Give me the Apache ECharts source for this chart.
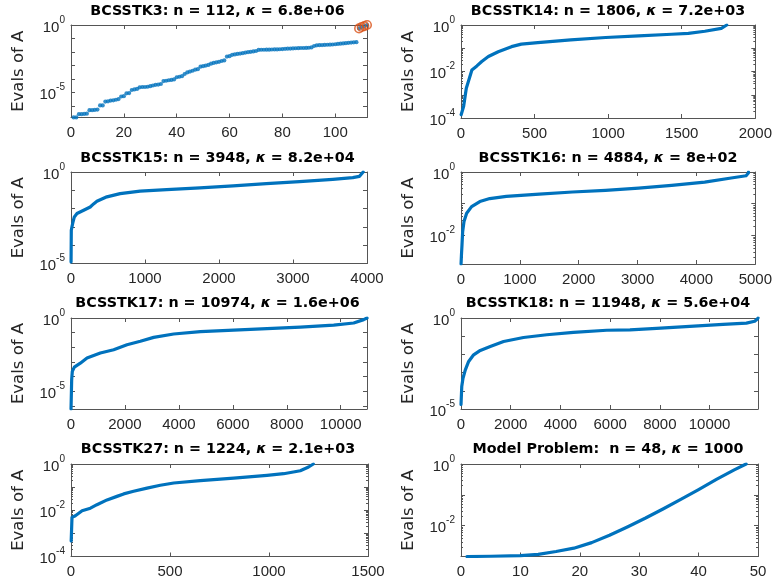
<!DOCTYPE html>
<html><head><meta charset="utf-8">
<script src="https://cdn.jsdelivr.net/npm/echarts@6/dist/echarts.min.js"></script>
<style>html,body{margin:0;padding:0;background:#fff}#c{width:775px;height:585px}</style>
</head><body><div id="c"></div>
<script>
// ---------- titles ----------
const titleHeads = ['BCSSTK3: n = 112, ', 'BCSSTK14: n = 1806, ', 'BCSSTK15: n = 3948, ', 'BCSSTK16: n = 4884, ',
  'BCSSTK17: n = 10974, ', 'BCSSTK18: n = 11948, ', 'BCSSTK27: n = 1224, ', 'Model Problem:  n = 48, '];
const kappas = ['6.8e+06', '7.2e+03', '8.2e+04', '8e+02', '1.6e+06', '5.6e+04', '2.1e+03', '1000'];
const yName = 'Evals of A';

// ---------- axis ranges / tick labels ----------
const xMax = [112, 2000, 4000, 5000, 10974, 11948, 1500, 50];
const xStep = [20, 500, 1000, 1000, 2000, 2000, 500, 10];
const yMin = [1.47e-7, 1e-4, 1e-5, 1.25e-3, 6.25e-7, 1e-5, 1e-4, 1e-3];
const yMax = [1, 1, 1, 1, 1, 1, 1, 1];
const yLabelExp = [[-5, 0], [-4, -2, 0], [-5, 0], [-2, 0], [-5, 0], [-5, 0], [-4, -2, 0], [-2, 0]];
const hasMinor = [false, true, false, true, false, false, true, true];

// ---------- data ----------
// BCSSTK3: all 112 eigenvalues (index 1..112)
const p1Eig = [1.48e-7, 1.48e-7, 2.57e-7, 2.57e-7, 2.69e-7, 2.82e-7, 5.13e-7, 5.13e-7, 5.37e-7, 5.62e-7,
  1.15e-6, 1.15e-6, 2.19e-6, 2.29e-6, 2.63e-6, 2.75e-6, 3.02e-6, 3.39e-6, 5.25e-6, 5.5e-6,
  8.9e-6, 9.3e-6, 1.58e-5, 1.74e-5, 1.91e-5, 2.51e-5, 2.63e-5, 2.63e-5, 2.75e-5, 3.02e-5,
  3.39e-5, 3.8e-5, 3.98e-5, 4.37e-5, 7.24e-5, 7.59e-5, 8.32e-5, 8.71e-5, 9.55e-5, 1.38e-4,
  1.51e-4, 1.66e-4, 2.4e-4, 3.16e-4, 3.63e-4, 4.17e-4, 5.01e-4, 5.5e-4, 8.32e-4, 9.12e-4,
  1e-3, 1.12e-3, 1.38e-3, 1.58e-3, 1.74e-3, 1.91e-3, 2.19e-3, 2.4e-3, 4.68e-3, 5.01e-3,
  6.31e-3, 6.76e-3, 7.24e-3, 7.76e-3, 8.32e-3, 9.12e-3, 9.77e-3, 1.05e-2, 1.12e-2, 1.2e-2,
  1.45e-2, 1.48e-2, 1.48e-2, 1.51e-2, 1.51e-2, 1.55e-2, 1.58e-2, 1.58e-2, 1.62e-2, 1.66e-2,
  1.74e-2, 1.78e-2, 1.82e-2, 1.86e-2, 1.91e-2, 1.95e-2, 2.0e-2, 2.0e-2, 2.04e-2, 2.09e-2,
  2.19e-2, 2.82e-2, 3.16e-2, 3.24e-2, 3.31e-2, 3.39e-2, 3.47e-2, 3.55e-2, 3.63e-2, 3.8e-2,
  3.98e-2, 4.17e-2, 4.37e-2, 4.57e-2, 4.79e-2, 5.01e-2, 5.25e-2, 5.37e-2, 0.562, 0.708,
  0.832, 1];
const p1Circled = [109, 110, 111, 112];

const p2Idx = [1, 7, 18, 29, 36, 47, 74, 108, 141, 186, 253, 343, 410, 522, 746, 983, 1208, 1432, 1545, 1657, 1769, 1806];
const p2Eig = [1.39e-4, 1.5e-4, 3.2e-4, 3.7e-4, 1.9e-3, 3.2e-3, 1.17e-2, 1.74e-2, 2.7e-2, 4.4e-2, 7.1e-2, 0.117, 0.151, 0.174, 0.23, 0.29, 0.34, 0.40, 0.44, 0.54, 0.72, 1];

const p3Idx = [1, 4, 13, 27, 45, 81, 171, 260, 305, 350, 485, 664, 934, 1293, 1742, 2191, 2640, 3088, 3537, 3807, 3897, 3948];
const p3Eig = [1.22e-5, 6.6e-4, 1e-3, 1.86e-3, 3.5e-3, 5.4e-3, 8.1e-3, 1.23e-2, 1.8e-2, 2.5e-2, 4.4e-2, 6.6e-2, 9.1e-2, 0.11, 0.135, 0.174, 0.23, 0.295, 0.40, 0.49, 0.575, 1];

const p4Idx = [1, 8, 17, 28, 51, 96, 180, 320, 489, 770, 1331, 1893, 2455, 3017, 3579, 4140, 4590, 4843, 4882, 4884];
const p4Eig = [1.25e-3, 2.5e-3, 5e-3, 1.3e-2, 2.75e-2, 5e-2, 8.1e-2, 0.117, 0.145, 0.17, 0.2, 0.234, 0.263, 0.31, 0.38, 0.48, 0.645, 0.76, 0.93, 1];

const p5Idx = [1, 12, 25, 49, 124, 346, 593, 1088, 1582, 2076, 2571, 3065, 3807, 4796, 6032, 7268, 8504, 9740, 10481, 10852, 10974];
const p5Eig = [6.25e-7, 7e-7, 6.2e-5, 2.3e-4, 4.5e-4, 8.3e-4, 1.86e-3, 4.1e-3, 6.9e-3, 1.5e-2, 2.6e-2, 4.8e-2, 8.1e-2, 0.117, 0.15, 0.186, 0.24, 0.33, 0.457, 0.776, 1];

const p6Idx = [1, 30, 80, 174, 308, 508, 776, 1177, 1713, 2515, 3452, 4522, 5860, 6797, 7867, 9205, 10543, 11480, 11815, 11922, 11948];
const p6Eig = [1.79e-5, 1.7e-4, 4.9e-4, 1.41e-3, 4.1e-3, 9.5e-3, 1.66e-2, 2.75e-2, 5.1e-2, 8.5e-2, 0.12, 0.162, 0.212, 0.222, 0.27, 0.347, 0.447, 0.525, 0.66, 0.87, 1];

const p7Idx = [1, 2, 5, 22, 56, 98, 131, 182, 232, 266, 316, 384, 451, 519, 653, 822, 990, 1074, 1158, 1200, 1224];
const p7Eig = [4.76e-4, 5.2e-4, 4.9e-3, 5.8e-3, 9.5e-3, 1.23e-2, 1.74e-2, 2.8e-2, 3.98e-2, 5.1e-2, 6.6e-2, 9.1e-2, 0.12, 0.151, 0.19, 0.245, 0.324, 0.38, 0.513, 0.74, 1];

const p8Idx = [1, 5, 10, 13, 16, 19, 22, 25, 28, 31, 34, 37, 40, 43, 46, 48];
const p8Eig = [1.0e-3, 1.02e-3, 1.07e-3, 1.17e-3, 1.45e-3, 1.86e-3, 2.82e-3, 4.9e-3, 9.1e-3, 1.74e-2, 3.47e-2, 7.1e-2, 0.148, 0.316, 0.646, 1];

// ---------- layout / style ----------
const gridLeft = [71, 461, 71, 461, 71, 461, 71, 461];
const gridTop = [25, 25, 172, 172, 318, 318, 464, 464];
const gridW = [296, 297, 296, 297, 296, 297, 297, 297];
const gridH = [92.5, 93, 91.5, 92, 91, 91, 92.5, 92.5];
const titleY = [11.5, 158, 303.5, 449];

const FONT = "'DejaVu Sans', sans-serif";
const TFONT = "'Liberation Sans', Arial, sans-serif";
const AX = '#262626';
const LINE = '#555555';
const BLUE = '#0072BD';
const ORANGE = '#D95319';

const chart = echarts.init(document.getElementById('c'), null, { renderer: 'canvas' });

const curveIdx = [null, p2Idx, p3Idx, p4Idx, p5Idx, p6Idx, p7Idx, p8Idx];
const curveEig = [null, p2Eig, p3Eig, p4Eig, p5Eig, p6Eig, p7Eig, p8Eig];

function decadeFormatter(shown) {
  return function (v) {
    const e = Math.log10(v);
    const r = Math.round(e);
    if (Math.abs(e - r) > 1e-6 || shown.indexOf(r) < 0) return '';
    return '{b|10}{s|' + (r === 0 ? 0 : r) + '}';
  };
}
function xFormatter(step) {
  return function (v) {
    const q = v / step;
    return Math.abs(q - Math.round(q)) < 1e-9 ? String(v) : '';
  };
}

const grid = [], xAxis = [], yAxis = [], series = [], title = [];
for (let g = 0; g < 8; g++) {
  grid.push({ left: gridLeft[g], top: gridTop[g], width: gridW[g], height: gridH[g], show: false, containLabel: false });
  const row = Math.floor(g / 2);
  title.push({
    text: '{b|' + titleHeads[g] + '}{k|κ}{b| = ' + kappas[g] + '}',
    left: gridLeft[g] + gridW[g] / 2 - 1.5, top: titleY[row],
    textAlign: 'center', textVerticalAlign: 'middle', padding: 0,
    textStyle: {
      rich: {
        b: { fontFamily: FONT, fontWeight: 'bold', fontSize: 14.3, color: '#000' },
        k: { fontFamily: FONT, fontWeight: 'bold', fontStyle: 'italic', fontSize: 14.3, color: '#000' }
      }
    }
  });
  const xBase = {
    gridIndex: g, type: 'value', min: 0, max: xMax[g], interval: xStep[g],
    axisLine: { show: true, onZero: false, lineStyle: { color: LINE, width: 1 } },
    axisTick: { show: true, inside: true, length: 4, lineStyle: { color: LINE, width: 1 } },
    splitLine: { show: false }
  };
  const xb = xAxis.length;
  xAxis.push(Object.assign({}, xBase, {
    position: 'bottom',
    axisLabel: { show: true, margin: 8, fontFamily: TFONT, fontSize: 15, color: AX, formatter: xFormatter(xStep[g]) }
  }));
  xAxis.push(Object.assign({}, xBase, { position: 'top', axisLabel: { show: false } }));

  const yBase = {
    gridIndex: g, type: 'log', logBase: 10, min: yMin[g], max: yMax[g], splitNumber: 10,
    axisLine: { show: true, onZero: false, lineStyle: { color: LINE, width: 1 } },
    axisTick: { show: true, inside: true, length: 4, lineStyle: { color: LINE, width: 1 } },
    splitLine: { show: false },
    minorTick: { show: hasMinor[g], splitNumber: 9, length: 2, lineStyle: { color: LINE, width: 1 } }
  };
  const yl = yAxis.length;
  yAxis.push(Object.assign({}, yBase, {
    position: 'left',
    name: yName, nameLocation: 'middle', nameGap: 44,
    nameTextStyle: { fontFamily: FONT, fontSize: 16.5, color: AX },
    axisLabel: {
      show: true, margin: 6, formatter: decadeFormatter(yLabelExp[g]),
      rich: {
        b: { fontFamily: TFONT, fontSize: 15, color: AX, lineHeight: 20, verticalAlign: 'bottom' },
        s: { fontFamily: TFONT, fontSize: 10, color: AX, lineHeight: 20, verticalAlign: 'top' }
      }
    }
  }));
  yAxis.push(Object.assign({}, yBase, { position: 'right', axisLabel: { show: false } }));

  if (g === 0) {
    series.push({
      type: 'scatter', xAxisIndex: xb, yAxisIndex: yl, symbol: 'circle', symbolSize: 4.2,
      itemStyle: { color: BLUE }, silent: true,
      data: p1Eig.map(function (v, i) { return [i + 1, v]; })
    });
    series.push({
      type: 'scatter', xAxisIndex: xb, yAxisIndex: yl, symbol: 'circle', symbolSize: 8.5,
      itemStyle: { color: 'rgba(0,0,0,0)', borderColor: ORANGE, borderWidth: 1.6 }, silent: true,
      data: p1Circled.map(function (i) { return [i, p1Eig[i - 1]]; })
    });
  } else {
    series.push({
      type: 'line', xAxisIndex: xb, yAxisIndex: yl, showSymbol: false, symbol: 'none',
      lineStyle: { color: BLUE, width: 3.2, join: 'round', cap: 'round' }, clip: true, silent: true,
      data: curveIdx[g].map(function (x, i) { return [x, curveEig[g][i]]; })
    });
  }
}

chart.setOption({
  animation: false,
  backgroundColor: '#ffffff',
  title: title, grid: grid, xAxis: xAxis, yAxis: yAxis, series: series
});
</script>
</body></html>
